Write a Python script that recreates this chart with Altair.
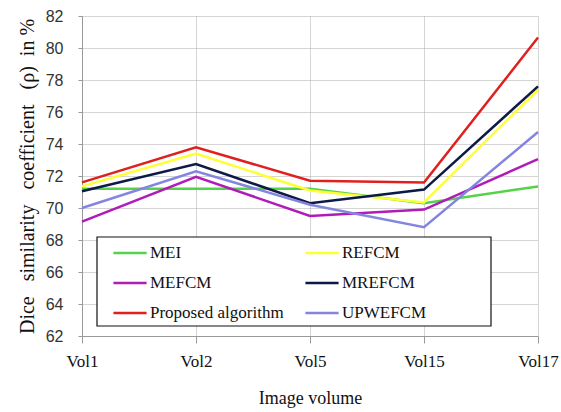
import altair as alt
import pandas as pd

volumes = ["Vol1", "Vol2", "Vol5", "Vol15", "Vol17"]
# listed column by column, so the two-column legend reads row by row:
# MEI / REFCM, MEFCM / MREFCM, Proposed algorithm / UPWEFCM
series = ["MEI", "MEFCM", "Proposed algorithm", "REFCM", "MREFCM", "UPWEFCM"]
colors = ["#52d34a", "#b01cb8", "#e0201e", "#ffff33", "#0d1a45", "#8585e0"]
widths = [2.5, 2.5, 3.0, 3.5, 3.0, 2.2]

mei = [71.2, 71.2, 71.2, 70.3, 71.35]
mefcm = [69.15, 71.95, 69.5, 69.9, 73.05]
proposed = [71.6, 73.8, 71.7, 71.6, 80.65]
refcm = [71.35, 73.4, 71.1, 70.35, 77.4]
mrefcm = [71.05, 72.75, 70.3, 71.15, 77.6]
upwefcm = [70.0, 72.3, 70.2, 68.8, 74.75]

values = [mei, mefcm, proposed, refcm, mrefcm, upwefcm]
rows = []
for name, vals in zip(series, values):
    for vol, v in zip(volumes, vals):
        rows.append({"volume": vol, "method": name, "dice": v})
df = pd.DataFrame(rows)

serif = "Liberation Serif"
sans = "Liberation Sans"

x_axis = alt.Axis(
    title="Image volume",
    labelAngle=0,
    labelFont=serif,
    labelFontSize=17,
    labelColor="#111",
    labelPadding=10,
    tickSize=7,
    tickColor="#999",
    domainColor="#999",
    grid=True,
    gridColor="#aaa",
    gridDash=[1, 1],
    titleFont=serif,
    titleFontSize=18,
    titleFontWeight="normal",
    titleColor="#111",
    titleX=228,
    titleY=62,
    titleBaseline="middle",
)

y_axis = alt.Axis(
    title="Dice\u00a0\u00a0\u00a0similarity\u00a0\u00a0\u00a0coefficient\u00a0\u00a0\u00a0(\u03c1)\u00a0\u00a0in\u00a0%",
    values=list(range(62, 83, 2)),
    labelFont=sans,
    labelFontSize=16,
    labelColor="#333",
    labelPadding=15,
    tickSize=4,
    tickColor="#999",
    domainColor="#999",
    grid=True,
    gridColor="#aaa",
    gridDash=[1, 1],
    titleFont=serif,
    titleFontSize=20,
    titleFontWeight="normal",
    titleColor="#111",
    titleAngle=-90,
    titleX=-55,
    titleY=160,
    titleAlign="center",
    titleBaseline="middle",
)

legend = alt.Legend(
    title=None,
    orient="none",
    legendX=30,
    legendY=222,
    direction="vertical",
    columns=2,
    columnPadding=20,
    rowPadding=0,
    clipHeight=30,
    symbolType="stroke",
    symbolSize=1100,
    symbolStrokeWidth=3,
    labelFont=serif,
    labelFontSize=17,
    labelColor="#111",
    labelOffset=2,
    labelLimit=300,
    padding=0,
)

lines = alt.Chart(df).mark_line(strokeJoin="miter").encode(
    x=alt.X("volume:N", sort=volumes,
            scale=alt.Scale(domain=volumes, padding=0), axis=x_axis),
    y=alt.Y("dice:Q", scale=alt.Scale(domain=[62, 82], nice=False, zero=False),
            axis=y_axis),
    color=alt.Color("method:N", scale=alt.Scale(domain=series, range=colors),
                    legend=legend),
    strokeWidth=alt.StrokeWidth("method:N",
                                scale=alt.Scale(domain=series, range=widths),
                                legend=None),
)

box = alt.Chart(pd.DataFrame({"k": [0]})).mark_rect(
    fill="white", stroke="#111", strokeWidth=1.2
).encode(
    x=alt.value(15), x2=alt.value(409), y=alt.value(221), y2=alt.value(310)
)

chart = alt.layer(box, lines).properties(
    width=456,
    height=320,
    autosize=alt.AutoSizeParams(type="none"),
    padding={"left": 82, "top": 16, "right": 23, "bottom": 76},
    background="white",
).configure_view(stroke=None)

chart.save("out.html", embed_options={"renderer": "svg", "actions": False})
